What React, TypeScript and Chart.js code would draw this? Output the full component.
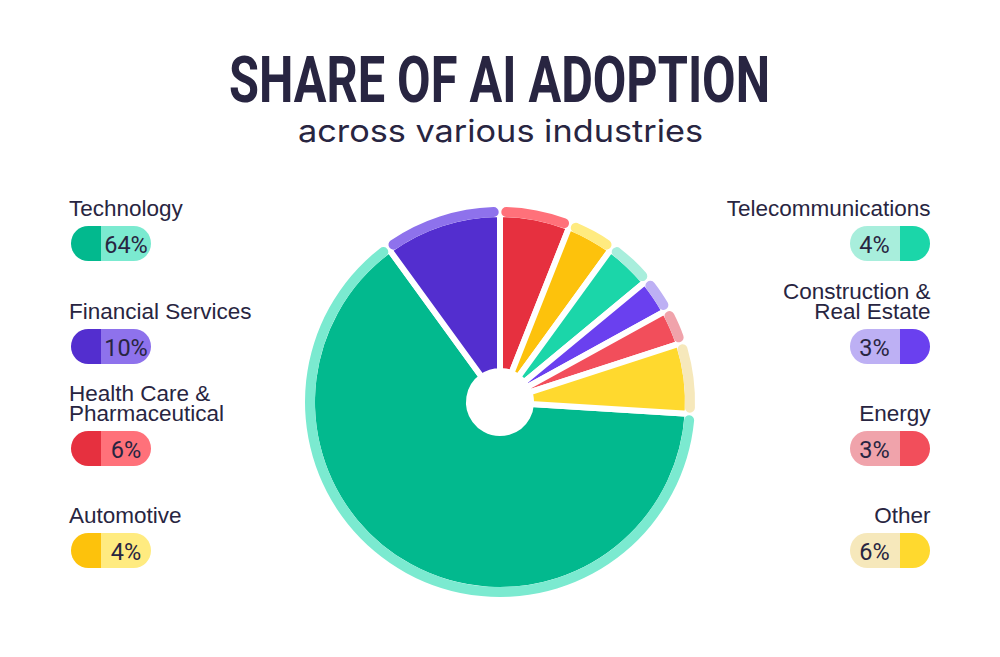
import React, { useEffect, useRef } from "react";
import { Chart, registerables } from "chart.js";

Chart.register(...registerables);

// ---------- data ----------
const categories: string[] = [
  "Technology",
  "Financial Services",
  "Health Care &\nPharmaceutical",
  "Automotive",
  "Telecommunications",
  "Construction &\nReal Estate",
  "Energy",
  "Other",
];
const shares: number[] = [64, 10, 6, 4, 4, 3, 3, 6];
const mainColors: string[] = ["#02B98E", "#532ECF", "#E6303F", "#FDC20C", "#1BD6A9", "#6A40EF", "#F24E5B", "#FFD92E"];
const rimColors: string[] = ["#7BEAD0", "#8E72EC", "#FF717A", "#FFEB80", "#A8EEDC", "#BDB0F4", "#F0A3AB", "#F6E8BB"];
const leftIdx: number[] = [0, 1, 2, 3];
const rightIdx: number[] = [4, 5, 6, 7];

const titleText = "SHARE OF AI ADOPTION";
const subtitleText = "across various industries";

const TEXT = "#282541";
const PILL_TOPS = [226, 329, 431, 533];

const total = shares.reduce((a, b) => a + b, 0);
// start the first slice so that the two left-column slices end at 12 o'clock
const rotationDeg = (360 * (total - shares[0] - shares[1])) / total;

function measure(text: string, font: string): number {
  const c = document.createElement("canvas").getContext("2d")!;
  c.font = font;
  return c.measureText(text).width;
}

function FitText(props: { text: string; font: string; width: number; left: number; top: number; lineHeight: number }) {
  const w = measure(props.text, props.font);
  const s = w > 0 ? props.width / w : 1;
  return (
    <div
      style={{
        position: "absolute",
        left: props.left,
        top: props.top,
        font: props.font,
        lineHeight: props.lineHeight + "px",
        color: TEXT,
        whiteSpace: "nowrap",
        transform: `scaleX(${s})`,
        transformOrigin: "left top",
      }}
    >
      {props.text}
    </div>
  );
}

const ringAdjust = {
  id: "ringAdjust",
  afterDatasetsUpdate(chart: any) {
    const rim = chart.getDatasetMeta(0);
    const main = chart.getDatasetMeta(1);
    main.data.forEach((el: any) => {
      el.outerRadius += 3;
    });
    rim.data.forEach((el: any) => {
      const r = (el.innerRadius + el.outerRadius) / 2;
      const d = 1.3 / r;
      el.startAngle += d;
      el.endAngle -= d;
      el.circumference -= 2 * d;
    });
  },
};

function Pie() {
  const ref = useRef<HTMLCanvasElement | null>(null);
  useEffect(() => {
    if (!ref.current) return;
    const chart = new Chart(ref.current, {
      type: "doughnut",
      data: {
        labels: categories,
        datasets: [
          { data: shares, backgroundColor: rimColors, borderWidth: 0, borderRadius: 5, weight: 10 } as any,
          { data: shares, backgroundColor: mainColors, borderColor: "#FFFFFF", borderWidth: 6, weight: 154 } as any,
        ],
      },
      options: {
        animation: false,
        responsive: false,
        devicePixelRatio: 1,
        events: [],
        radius: 195,
        cutout: "15.9%",
        rotation: rotationDeg,
        layout: { padding: 0 },
        plugins: { legend: { display: false }, tooltip: { enabled: false }, title: { display: false } },
      } as any,
      plugins: [ringAdjust],
    });
    return () => chart.destroy();
  }, []);
  return (
    <div style={{ position: "absolute", left: 300, top: 202, width: 400, height: 400 }}>
      <canvas ref={ref} width={400} height={400} style={{ width: 400, height: 400, display: "block" }} />
    </div>
  );
}

function LegendItem({ i, row, side }: { i: number; row: number; side: "left" | "right" }) {
  const pillTop = PILL_TOPS[row];
  const lines = categories[i].split("\n");
  const labelTop = pillTop - 7 - 20 * lines.length;
  const pillLeft = side === "left" ? 70.5 : 849.5;
  const pillW = 80.5;
  const darkW = 30.5;
  const bg =
    side === "left"
      ? `linear-gradient(to right, ${mainColors[i]} 0px, ${mainColors[i]} ${darkW}px, ${rimColors[i]} ${darkW}px, ${rimColors[i]} 100%)`
      : `linear-gradient(to right, ${rimColors[i]} 0px, ${rimColors[i]} ${pillW - darkW}px, ${mainColors[i]} ${pillW - darkW}px, ${mainColors[i]} 100%)`;
  const labelStyle: React.CSSProperties = {
    position: "absolute",
    top: labelTop,
    font: "22.5px 'Liberation Sans', Arial, sans-serif",
    lineHeight: "20px",
    color: TEXT,
    whiteSpace: "nowrap",
    textAlign: side,
  };
  if (side === "left") labelStyle.left = 69;
  else labelStyle.right = 1000 - 930.5;
  return (
    <>
      <div style={labelStyle}>
        {lines.map((l, k) => (
          <div key={k}>{l}</div>
        ))}
      </div>
      <div
        style={{
          position: "absolute",
          left: pillLeft,
          top: pillTop,
          width: pillW,
          height: 34.5,
          borderRadius: 17.25,
          background: bg,
          overflow: "hidden",
        }}
      >
        <div
          style={{
            position: "absolute",
            left: side === "left" ? darkW : 0,
            top: 2,
            width: pillW - darkW,
            height: 34.5,
            textAlign: "center",
            font: "23.5px Roboto, sans-serif",
            lineHeight: "34px",
            color: TEXT,
          }}
        >
          {shares[i] + "%"}
        </div>
      </div>
    </>
  );
}

export default function App() {
  return (
    <div
      style={{
        position: "absolute",
        left: 0,
        top: 0,
        width: 1000,
        height: 657,
        background: "#FFFFFF",
        overflow: "hidden",
        fontFamily: "'Liberation Sans', Arial, sans-serif",
      }}
    >
      <FitText text={titleText} font="700 64px Roboto" width={541} left={229} top={48.6} lineHeight={64} />
      <FitText text={subtitleText} font="400 31px Inter" width={405} left={298} top={115.2} lineHeight={31} />
      <Pie />
      {leftIdx.map((i, r) => (
        <LegendItem key={"l" + i} i={i} row={r} side="left" />
      ))}
      {rightIdx.map((i, r) => (
        <LegendItem key={"r" + i} i={i} row={r} side="right" />
      ))}
    </div>
  );
}
